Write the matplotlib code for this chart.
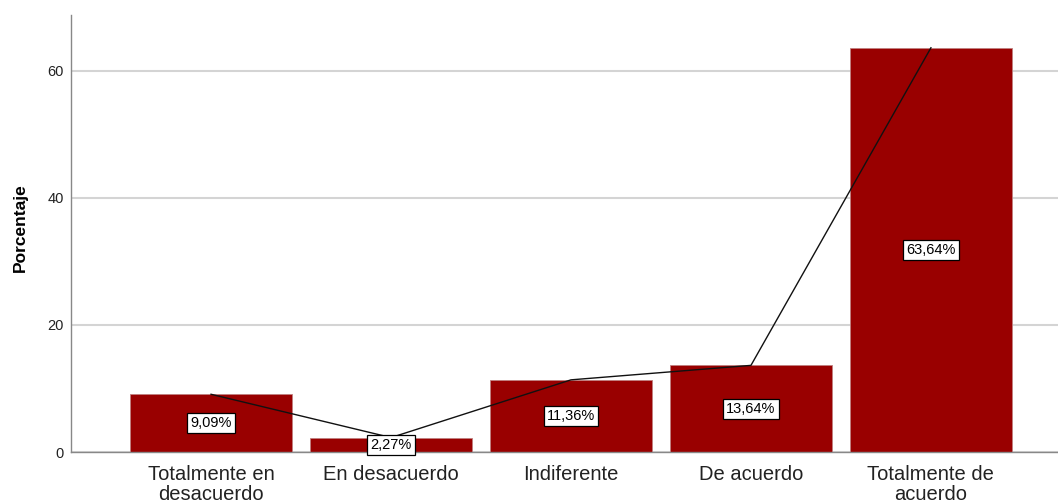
import matplotlib
matplotlib.use("Agg")
import matplotlib.pyplot as plt

categories = ["Totalmente en\ndesacuerdo", "En desacuerdo", "Indiferente", "De acuerdo", "Totalmente de\nacuerdo"]
values = [9.09, 2.27, 11.36, 13.64, 63.64]
labels = ["9,09%", "2,27%", "11,36%", "13,64%", "63,64%"]
yticks = [0, 20, 40, 60]

plt.rcParams['font.family'] = ['Liberation Sans', 'DejaVu Sans']

fig = plt.figure(figsize=(10.58, 5.04), dpi=100)
ax = fig.add_axes([71/1058, (504-452)/504, (1058-71)/1058, (452-15)/504])

x = list(range(len(categories)))
ax.bar(x, values, width=0.9, color='#990000', edgecolor='#c08080', linewidth=0.6, zorder=2)
ax.plot(x, values, color='#111111', linewidth=1.0, zorder=3)
for xi, v, lab in zip(x, values, labels):
    ax.text(xi, v / 2, lab, ha='center', va='center', fontsize=10.5, zorder=4,
            bbox=dict(boxstyle='square,pad=0.2', facecolor='white', edgecolor='black', linewidth=0.9))

ax.set_xlim(-0.778, 4.706)
ax.set_ylim(0, 68.8)
ax.set_yticks(yticks)
ax.set_yticklabels([str(t) for t in yticks], fontsize=10.5, color='#222222')
ax.set_xticks(x)
ax.set_xticklabels(categories, fontsize=14.5, color='#222222', linespacing=1.12)
ax.tick_params(axis='both', length=0)
ax.tick_params(axis='x', pad=9)
ax.tick_params(axis='y', pad=5)
ax.yaxis.grid(True, color='#d4d4d4', linewidth=1.5, zorder=0)
ax.set_axisbelow(True)
for s in ['top', 'right']:
    ax.spines[s].set_visible(False)
for s in ['left', 'bottom']:
    ax.spines[s].set_color('#888888')
    ax.spines[s].set_linewidth(1.0)
ax.set_ylabel('Porcentaje', fontsize=12.5, fontweight='bold')
ax.yaxis.set_label_coords(-43/987, (452-228)/437)

fig.savefig('out.png', dpi=100)
